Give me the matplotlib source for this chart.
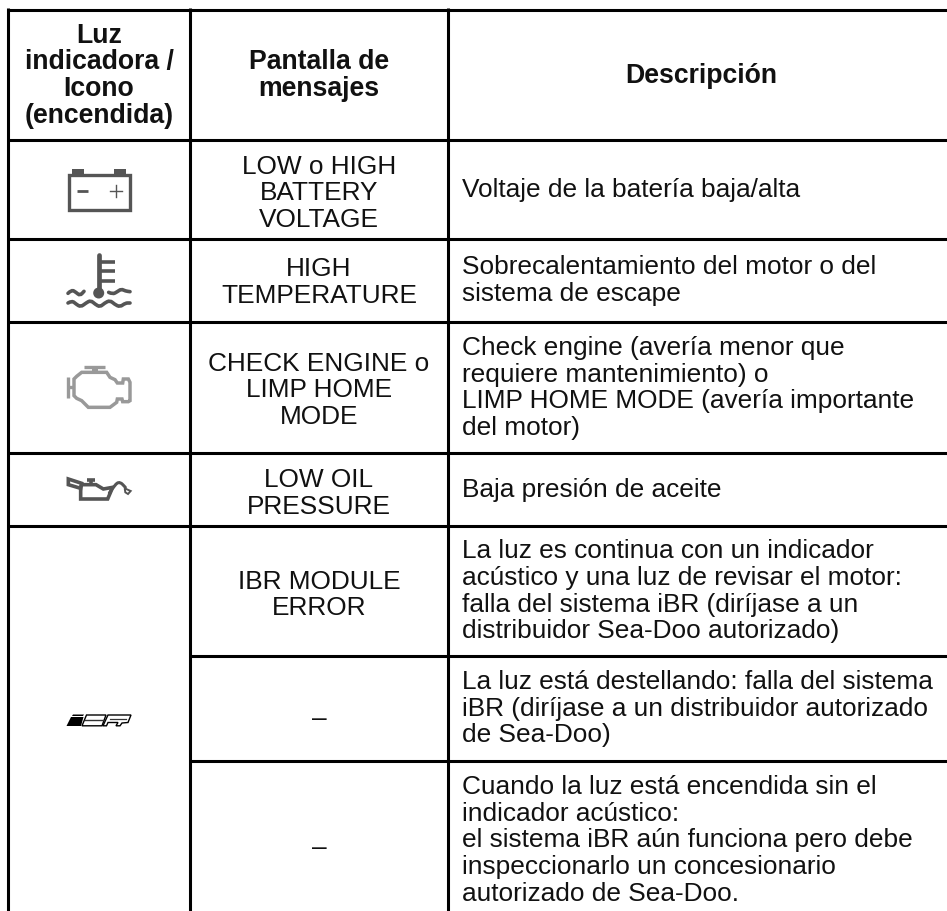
import matplotlib
matplotlib.use('Agg')
import matplotlib.pyplot as plt
from matplotlib.path import Path
from matplotlib.patches import PathPatch, Polygon, Circle, Rectangle

plt.rcParams['font.family'] = ['Liberation Sans', 'DejaVu Sans']

# table text
header_luz = ['Luz', 'indicadora /', 'Icono', '(encendida)']
header_pantalla = ['Pantalla de', 'mensajes']
header_desc = ['Descripción']

pantalla = [
    ['LOW o HIGH', 'BATTERY', 'VOLTAGE'],
    ['HIGH', 'TEMPERATURE'],
    ['CHECK ENGINE o', 'LIMP HOME', 'MODE'],
    ['LOW OIL', 'PRESSURE'],
    ['IBR MODULE', 'ERROR'],
    ['–'],
    ['–'],
]
descripcion = [
    ['Voltaje de la batería baja/alta'],
    ['Sobrecalentamiento del motor o del', 'sistema de escape'],
    ['Check engine (avería menor que', 'requiere mantenimiento) o',
     'LIMP HOME MODE (avería importante', 'del motor)'],
    ['Baja presión de aceite'],
    ['La luz es continua con un indicador', 'acústico y una luz de revisar el motor:',
     'falla del sistema iBR (diríjase a un', 'distribuidor Sea-Doo autorizado)'],
    ['La luz está destellando: falla del sistema', 'iBR (diríjase a un distribuidor autorizado',
     'de Sea-Doo)'],
    ['Cuando la luz está encendida sin el', 'indicador acústico:',
     'el sistema iBR aún funciona pero debe', 'inspeccionarlo un concesionario',
     'autorizado de Sea-Doo.'],
]

# first baseline of each cell, in pixels from the top
pantalla_y = [173.7, 276.5, 370.7, 487.3, 588.7, 726, 855]
descripcion_y = [197, 274, 355, 496.7, 558.3, 689, 794]

# grid, in pixels
col_x = [8, 190, 448]
row_y = [10.5, 141, 240, 322.7, 454, 526.7]
inner_row_y = [657, 762]

LINE_H = 26.65
FONT = 18.9
BLACK = '#000000'
DARK = '#555555'
GREY = '#999999'

fig = plt.figure(figsize=(9.47, 9.12), dpi=100)
ax = fig.add_axes([0, 0, 1, 1])
ax.set_xlim(0, 947)
ax.set_ylim(912, 0)
ax.axis('off')


def put_lines(lines, x, y, ha='center', bold=False):
    size = 19.2 if bold else FONT
    weight = 'bold' if bold else 'normal'
    for i, line in enumerate(lines):
        ax.text(x, y + i * LINE_H, line, ha=ha, va='baseline', fontsize=size,
                fontweight=weight, color='#111111')


def smooth(points, color, lw):
    # quadratic curve through the midpoints of the given points
    verts = [points[0]]
    codes = [Path.MOVETO]
    for i in range(1, len(points) - 1):
        mid = ((points[i][0] + points[i + 1][0]) / 2, (points[i][1] + points[i + 1][1]) / 2)
        verts += [points[i], mid]
        codes += [Path.CURVE3, Path.CURVE3]
    verts.append(points[-1])
    codes.append(Path.LINETO)
    ax.add_patch(PathPatch(Path(verts, codes), fill=False, ec=color, lw=lw, capstyle='round'))


def zoomed(points, ox, oy):
    return [(ox + p[0] / 3, oy + p[1] / 3) for p in points]


def battery():
    ax.add_patch(Rectangle((68.8, 175.5), 61, 35, fill=False, ec=DARK, lw=2.4, joinstyle='miter'))
    ax.add_patch(Rectangle((72, 170), 12, 5, fc=DARK, ec='none'))
    ax.add_patch(Rectangle((114, 170), 12, 5, fc=DARK, ec='none'))
    ax.plot([77, 88], [191.5, 191.5], color=DARK, lw=2, solid_capstyle='butt')
    ax.plot([109.5, 121.5], [191.5, 191.5], color=DARK, lw=1)
    ax.plot([115.5, 115.5], [185.5, 197.5], color=DARK, lw=1)


def thermometer():
    ax.plot([98.7, 98.7], [256, 292], color=DARK, lw=3.4, solid_capstyle='round')
    for y in [262.7, 272, 281.7]:
        ax.plot([98.7, 115], [y, y], color=DARK, lw=2.6, solid_capstyle='butt')
    ax.add_patch(Circle((98.7, 294), 5.5, fc=DARK, ec='none'))
    left = [(24, 163), (35, 152), (48, 160), (60, 170), (72, 157)]
    right = [(146, 160), (158, 166), (172, 158), (184, 150), (196, 156), (210, 158)]
    low = [(24, 192), (36, 185), (48, 195), (62, 204), (78, 192), (92, 184), (106, 196),
           (120, 204), (134, 192), (150, 184), (164, 196), (180, 204), (196, 192), (210, 192)]
    for pts in [left, right, low]:
        smooth(zoomed(pts, 60, 240), DARK, 2.6)


def engine():
    outline = [(50, 52), (65, 40), (140, 40), (150, 55), (165, 62), (172, 72), (188, 72), (190, 60),
               (205, 60), (210, 70), (210, 125), (205, 128), (188, 128), (186, 120), (172, 120),
               (170, 130), (150, 145), (85, 145), (65, 125), (50, 118), (42, 110), (42, 60)]
    ax.add_patch(Polygon(zoomed(outline, 60, 360), closed=True, fill=False, ec=GREY, lw=2.5))
    for pts in [[(25, 55), (25, 118)], [(25, 85), (42, 85)], [(72, 25), (135, 25)]]:
        p = zoomed(pts, 60, 360)
        ax.plot([p[0][0], p[1][0]], [p[0][1], p[1][1]], color=GREY, lw=2.4, solid_capstyle='butt')
    block = zoomed([(95, 25), (115, 25), (115, 40), (95, 40)], 60, 360)
    ax.add_patch(Polygon(block, closed=True, fc=GREY, ec='none'))


def oil_can():
    body = [(122, 205), (122, 240), (203, 240), (218, 205), (190, 210), (168, 197), (125, 197)]
    spout = [(85, 180), (125, 193), (122, 208), (85, 197)]
    ax.add_patch(Polygon(zoomed(body, 40, 420), closed=True, fill=False, ec=DARK, lw=2.6))
    ax.add_patch(Polygon(zoomed(spout, 40, 420), closed=True, fill=False, ec=DARK, lw=2.6))
    for pts in [[(140, 182), (165, 182)], [(152, 182), (152, 197)]]:
        p = zoomed(pts, 40, 420)
        ax.plot([p[0][0], p[1][0]], [p[0][1], p[1][1]], color=DARK, lw=2.6, solid_capstyle='butt')
    smooth(zoomed([(208, 222), (225, 196), (240, 188), (256, 205)], 40, 420), DARK, 2.2)
    drop = zoomed([(254, 208), (272, 216), (264, 225), (256, 220)], 40, 420)
    ax.add_patch(Polygon(drop, closed=True, fill=False, ec=DARK, lw=1.4))


def ibr_logo():
    i_top = [(73, 715.5), (84, 715.5), (83, 717), (72, 717)]
    i_body = [(66.5, 727), (81, 727), (83.5, 718), (71, 718)]
    ax.add_patch(Polygon(i_top, closed=True, fc='k', ec='none'))
    ax.add_patch(Polygon(i_body, closed=True, fc='k', ec='none'))
    b = [(82, 726.8), (86.5, 716), (106, 716), (102, 726.8)]
    ax.add_patch(Polygon(b, closed=True, fill=False, ec='k', lw=1))
    ax.plot([85, 103], [721.3, 721.3], color='#333333', lw=1)
    r = [(103, 726.8), (108, 716), (131, 716), (128, 723.5), (122, 724), (120, 726.8),
         (116, 726.8), (118, 723.5), (108, 723.5), (106.5, 726.8)]
    ax.add_patch(Polygon(r, closed=True, fill=False, ec='k', lw=1))
    ax.plot([109.5, 126], [719.5, 719.5], color='#333333', lw=0.9)


# grid lines
for y in row_y:
    ax.plot([6.5, 947], [y, y], color=BLACK, lw=2.2, solid_capstyle='butt')
for y in inner_row_y:
    ax.plot([190, 947], [y, y], color=BLACK, lw=2.2, solid_capstyle='butt')
for x in col_x:
    ax.plot([x, x], [9, 912], color=BLACK, lw=2.2, solid_capstyle='butt')

# headers
put_lines(header_luz, 99, 42.7, bold=True)
put_lines(header_pantalla, 319, 69, bold=True)
put_lines(header_desc, 701, 82.7, bold=True)

# body cells
for lines, y in zip(pantalla, pantalla_y):
    put_lines(lines, 319, y)
for lines, y in zip(descripcion, descripcion_y):
    put_lines(lines, 462.5, y, ha='left')

battery()
thermometer()
engine()
oil_can()
ibr_logo()

fig.savefig('out.png', dpi=100, facecolor='white')
